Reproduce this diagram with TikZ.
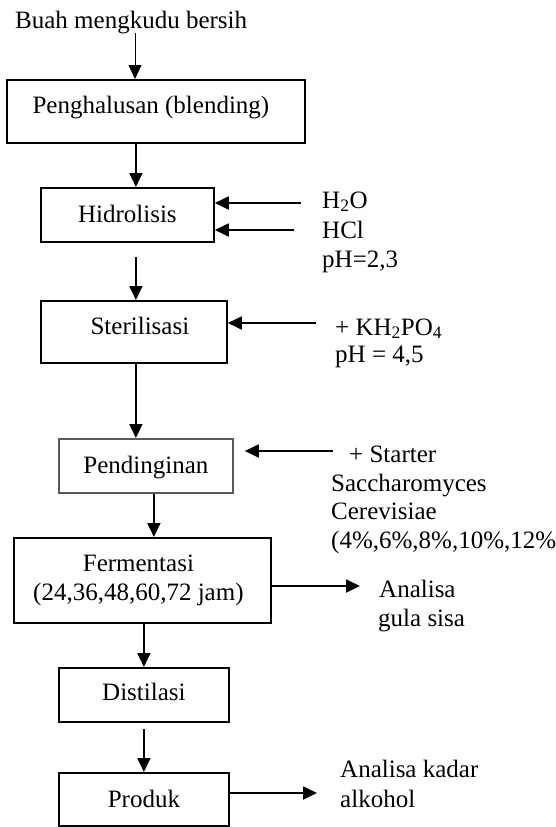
\documentclass[tikz,border=0pt]{standalone}
\usepackage{fontspec}
\setmainfont{Liberation Serif}
\usetikzlibrary{arrows.meta,calc}
\tikzset{
  every node/.style={font=\fontsize{25}{29}\selectfont},
  stepbox/.style={draw, line width=1.8pt, inner sep=0pt, anchor=north west},
  lbl/.style={inner sep=0pt, anchor=base west},
  flow/.style={-{Triangle[length=14pt,width=13pt]}, line width=1.8pt},
}
\begin{document}
\begin{tikzpicture}[x=1pt,y=-1pt]
\useasboundingbox (0,0) rectangle (556,827);

% boxes
\node[stepbox, minimum width=298pt, text height=34pt, text depth=29pt] (pen) at (6,79) {\hspace*{-10pt}Penghalusan (blending)};
\node[stepbox, minimum width=173pt, text height=35pt, text depth=19pt] (hid) at (40,187) {Hidrolisis};
\node[stepbox, minimum width=186pt, text height=34pt, text depth=28pt] (ster) at (40,300) {\hspace*{12pt}Sterilisasi};
\node[stepbox, draw=black!65, minimum width=174pt, text height=35pt, text depth=19pt] (pend) at (58,438) {Pendinginan};
\node[stepbox, minimum width=257pt, minimum height=85pt, align=center] (ferm) at (13,537) {\hspace*{-8pt}Fermentasi\\\hspace*{-8pt}(24,36,48,60,72 jam)};
\node[stepbox, minimum width=170pt, text height=33pt, text depth=21pt] (dist) at (58,667) {Distilasi};
\node[stepbox, minimum width=170pt, text height=35pt, text depth=18pt] (prod) at (58,772) {Produk};

% texts
\node[lbl] (buah) at (15,28) {Buah mengkudu bersih};
\node[lbl] (h2o) at (322,208) {H\textsubscript{2}O};
\node[lbl] (hcl) at (322,238) {HCl};
\node[lbl] (ph1) at (322,267) {pH=2,3};
\node[lbl] (kh) at (335,335) {+ KH\textsubscript{2}PO\textsubscript{4}};
\node[lbl] (ph2) at (335,362) {pH = 4,5};
\node[lbl] (starter) at (349,462) {+ Starter};
\node[lbl] (sac) at (331,491) {Saccharomyces};
\node[lbl] (cer) at (331,519) {Cerevisiae};
\node[lbl] (pct) at (331,548) {(4\%,6\%,8\%,10\%,12\%};
\node[lbl] (an1) at (379,597) {Analisa};
\node[lbl] (gula) at (378,626) {gula sisa};
\node[lbl] (an2) at (340,777) {Analisa kadar};
\node[lbl] (alk) at (340,807) {alkohol};

% free ends
\coordinate (src) at (135,33);
\coordinate (hidout) at ($(hid.south)+(8.5,14)$);
\coordinate (distout) at ($(dist.south)+(0,6)$);
\coordinate (inh2o) at (301,203);
\coordinate (inhcl) at (294,230);
\coordinate (inkh) at (316,323);
\coordinate (inst) at (333,451);
\coordinate (pendin) at ($(inst -| pend.east)+(11,0)$);
\coordinate (outan1) at (360,586);
\coordinate (outan2) at (317,793);

% vertical flow
\draw[flow, line width=1pt] (src) -- (src |- pen.north);
\draw[flow] ([xshift=-20pt]pen.south) -- ([xshift=-20pt]pen.south |- hid.north);
\draw[flow] (hidout) -- (hidout |- ster.north);
\draw[flow] ([xshift=2pt]ster.south) -- ([xshift=2pt]ster.south |- pend.north);
\draw[flow] ([xshift=8pt]pend.south) -- ([xshift=8pt]pend.south |- ferm.north);
\draw[flow] (dist.north |- ferm.south) -- (dist.north);
\draw[flow] (distout) -- (prod.north);

% side inputs
\draw[flow] (inh2o) -- (inh2o -| hid.east);
\draw[flow] (inhcl) -- (inhcl -| hid.east);
\draw[flow] (inkh) -- (inkh -| ster.east);
\draw[flow] (inst) -- (pendin);

% side outputs
\draw[flow] (outan1 -| ferm.east) -- (outan1);
\draw[flow] (outan2 -| prod.east) -- (outan2);
\end{tikzpicture}
\end{document}
